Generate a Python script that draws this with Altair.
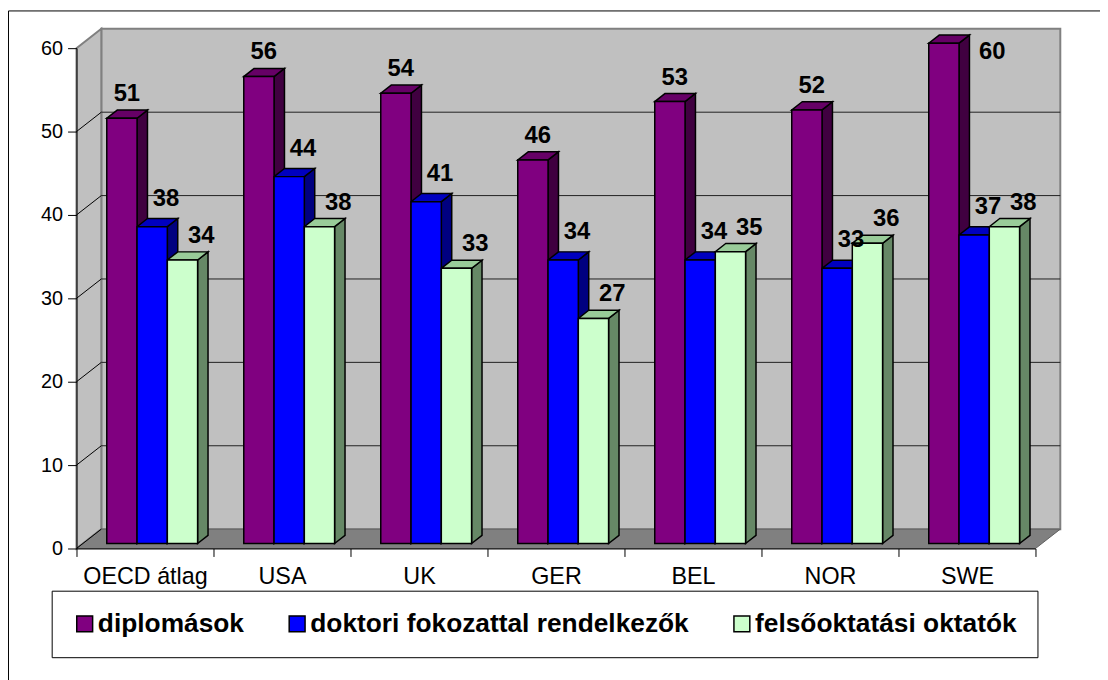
import json
import pandas as pd
import altair as alt

# ---------------- data ----------------
categories = ["OECD átlag", "USA", "UK", "GER", "BEL", "NOR", "SWE"]
series = ["diplomások", "doktori fokozattal rendelkezők", "felsőoktatási oktatók"]
diplomasok = [51, 56, 54, 46, 53, 52, 60]
doktori = [38, 44, 41, 34, 34, 33, 37]
oktatok = [34, 38, 33, 27, 35, 36, 38]
y_ticks = [0, 10, 20, 30, 40, 50, 60]

values_by_series = [diplomasok, doktori, oktatok]

# ---------------- styles ----------------
front_colors = ["#800080", "#0000FF", "#CCFFCC"]
top_colors = ["#660066", "#0000C0", "#99CC99"]
side_colors = ["#400040", "#000080", "#668866"]
FONT = "Liberation Sans"

W, H = 966, 504
N = len(categories)
YMAX = y_ticks[-1]
PX = W / N      # pixels per category
PY = H / YMAX   # pixels per unit

# 3-D geometry, converted from pixels to data units
WDX, WDY = 25 / PX, 19.5 / PY      # depth of the walls
BOY = 5 / PY                        # bars stand a bit behind the front plane
BDX, BDY = 10.5 / PX, 8.2 / PY      # depth of each bar
BW = 0.221                          # bar width (fraction of a category)
LBL_DX = [5, 14, 19]                # label shift (px) per series
LBL_DY = [9, 13, 9]
LBL_H = 20                          # approx. label height (px)

front, side, top, labels = [], [], [], []
for j, (s, vals) in enumerate(zip(series, values_by_series)):
    for i, v in enumerate(vals):
        x0 = i + BW * (1 + j)
        x1 = x0 + BW
        bid = f"{i}-{j}"
        front.append(dict(series=s, bar=bid, x0=x0, x1=x1, y0=BOY, y1=v + BOY))
        side.append(dict(series=s, bar=bid, x=x1, y=BOY, y2=v + BOY))
        side.append(dict(series=s, bar=bid, x=x1 + BDX, y=BOY + BDY, y2=v + BOY + BDY))
        top.append(dict(series=s, bar=bid, y=v + BOY, x=x0, x2=x1))
        top.append(dict(series=s, bar=bid, y=v + BOY + BDY, x=x0 + BDX, x2=x1 + BDX))
        lx = (x0 + x1) / 2 + LBL_DX[j] / PX
        ly = v + BOY + BDY + LBL_DY[j] / PY
        if ly + LBL_H / PY > YMAX + WDY:
            # no room above the chart area: put the label beside the bar
            lx = x1 + BDX + 23 / PX
            ly = v + BOY - 16 / PY
        labels.append(dict(series=s, value=v, x=lx, y=ly))

front_df = pd.DataFrame(front)
side_df = pd.DataFrame(side)
top_df = pd.DataFrame(top)
label_df = pd.DataFrame(labels)

back_wall_df = pd.DataFrame([dict(x=WDX, x2=N + WDX, y=WDY, y2=YMAX + WDY)])
left_wall_df = pd.DataFrame([dict(x=0, y=0, y2=YMAX), dict(x=WDX, y=WDY, y2=YMAX + WDY)])
floor_df = pd.DataFrame([dict(y=0, x=0, x2=N), dict(y=WDY, x=WDX, x2=N + WDX)])
grid_back_df = pd.DataFrame([dict(x=WDX, x2=N + WDX, y=t + WDY) for t in y_ticks[1:-1]])
grid_side_df = pd.DataFrame([dict(x=0, x2=WDX, y=t, y2=t + WDY) for t in y_ticks[:-1]])

# ---------------- scales & axes ----------------
x_scale = alt.Scale(domain=[0, N], nice=False, zero=False)
y_scale = alt.Scale(domain=[0, YMAX], nice=False, zero=False)

cats_js = json.dumps(categories, ensure_ascii=False)
x_axis = alt.Axis(
    values=[k / 2 for k in range(2 * N + 1)],
    labelExpr=f"datum.value % 1 == 0 ? '' : {cats_js}[floor(datum.value)]",
    tickOpacity={"condition": {"test": "datum.value % 1 == 0", "value": 1}, "value": 0},
    title=None, grid=False, tickSize=8, tickColor="black", domainColor="black",
    labelFont=FONT, labelFontSize=23.5, labelColor="black", labelPadding=8,
    labelFlush=False, labelOverlap=False, zindex=1,
)
y_axis = alt.Axis(
    values=y_ticks, title=None, grid=False, tickSize=9, tickColor="black",
    domainColor="black", labelFont=FONT, labelFontSize=20, labelColor="black",
    labelPadding=5, labelFlush=False, labelOverlap=False, zindex=1,
)


def X(field):
    return alt.X(field, scale=x_scale, axis=x_axis)


def Y(field):
    return alt.Y(field, scale=y_scale, axis=y_axis, stack=None)


back_wall = alt.Chart(back_wall_df).mark_rect(
    fill="#C0C0C0", stroke="#808080", strokeWidth=2
).encode(x=X("x:Q"), x2="x2:Q", y=Y("y:Q"), y2="y2:Q")

left_wall = alt.Chart(left_wall_df).mark_area(
    orient="vertical", fill="#C0C0C0", stroke="#808080", strokeWidth=2
).encode(x=X("x:Q"), y=Y("y:Q"), y2="y2:Q")

floor = alt.Chart(floor_df).mark_area(
    orient="horizontal", fill="#808080", stroke="#606060", strokeWidth=1
).encode(y=Y("y:Q"), x=X("x:Q"), x2="x2:Q")

grid_back = alt.Chart(grid_back_df).mark_rule(color="#202020", strokeWidth=1).encode(
    x=X("x:Q"), x2="x2:Q", y=Y("y:Q")
)
grid_side = alt.Chart(grid_side_df).mark_rule(color="#000000", strokeWidth=1).encode(
    x=X("x:Q"), x2="x2:Q", y=Y("y:Q"), y2="y2:Q"
)

sides = alt.Chart(side_df).mark_area(
    orient="vertical", stroke="black", strokeWidth=1.5, strokeJoin="miter", opacity=1
).encode(
    x=X("x:Q"), y=Y("y:Q"), y2="y2:Q", detail="bar:N",
    fill=alt.Fill("series:N", scale=alt.Scale(domain=series, range=side_colors), legend=None),
)
tops = alt.Chart(top_df).mark_area(
    orient="horizontal", stroke="black", strokeWidth=1.5, strokeJoin="miter", opacity=1
).encode(
    y=Y("y:Q"), x=X("x:Q"), x2="x2:Q", detail="bar:N",
    fill=alt.Fill("series:N", scale=alt.Scale(domain=series, range=top_colors), legend=None),
)
fronts = alt.Chart(front_df).mark_rect(stroke="black", strokeWidth=1.5).encode(
    x=X("x0:Q"), x2="x1:Q", y=Y("y0:Q"), y2="y1:Q",
    fill=alt.Fill(
        "series:N",
        scale=alt.Scale(domain=series, range=front_colors),
        sort=series,
        legend=alt.Legend(
            title=None, orient="none", legendX=-25, legendY=546.5,
            direction="horizontal", columns=3, symbolType="square", symbolSize=256,
            symbolStrokeColor="black", symbolStrokeWidth=1.5, symbolOpacity=1,
            labelFont=FONT, labelFontWeight="bold", labelFontSize=26.5, labelColor="black",
            labelLimit=1000, labelOffset=0, columnPadding=40, padding=20,
            strokeColor="black", fillColor="white",
        ),
    ),
)

value_labels = alt.Chart(label_df).mark_text(
    font=FONT, fontWeight="bold", fontSize=24, align="center", baseline="alphabetic", color="black"
).encode(x=X("x:Q"), y=Y("y:Q"), text="value:Q")

one = pd.DataFrame({"a": [0]})
border_left = alt.Chart(one).mark_rule(color="black", strokeWidth=1).encode(
    x=alt.value(-68.5), y=alt.value(-37.5), y2=alt.value(H + 200)
)
border_top = alt.Chart(one).mark_rule(color="black", strokeWidth=1).encode(
    x=alt.value(-68.5), x2=alt.value(W + 200), y=alt.value(-37.5)
)

chart = alt.layer(
    back_wall, left_wall, floor, grid_back, grid_side,
    sides, tops, fronts, value_labels, border_left, border_top,
).resolve_scale(fill="independent").properties(
    width=W, height=H,
    autosize=alt.AutoSizeParams(type="none"),
    padding={"left": 69, "top": 38, "right": 65, "bottom": 130},
    background="white",
).configure_view(stroke=None)

chart.save("out.html", embed_options={"renderer": "svg", "actions": False})
